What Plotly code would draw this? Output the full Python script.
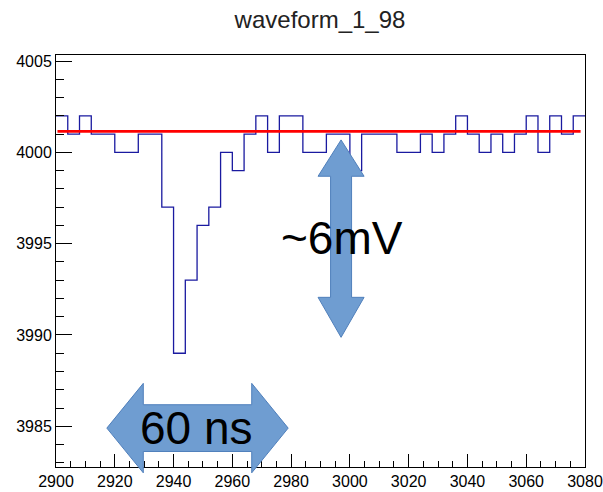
import plotly.graph_objects as go

# ---- data ----
x_start = 2900
bin_width = 4
counts = [4002, 4001, 4002, 4001, 4001, 4000, 4000, 4001, 4001, 3997,
          3989, 3993, 3996, 3997, 4000, 3999, 4001, 4002, 4000, 4002,
          4002, 4000, 4000, 4001, 4001, 3999, 4001, 4001, 4001, 4000,
          4000, 4001, 4000, 4001, 4002, 4001, 4000, 4001, 4000, 4001,
          4002, 4000, 4002, 4001, 4002]
baseline = 4001.15
fit_x = [2900.5, 3078.5]
x_range = [2900, 3080]
y_range = [3982.77, 4005.33]
title = "waveform_1_98"
label_amp = "~6mV"
label_time = "60 ns"

# bin edges
edges = [x_start + i * bin_width for i in range(len(counts) + 1)]
hx = edges
hy = counts + [counts[-1]]

fig = go.Figure()
fig.add_trace(go.Scatter(x=hx, y=hy, mode="lines", line_shape="hv",
                         line=dict(color="#1a1aa0", width=1.3),
                         showlegend=False, hoverinfo="skip"))
fig.add_trace(go.Scatter(x=fit_x, y=[baseline, baseline], mode="lines",
                         line=dict(color="#ff0000", width=2.6),
                         showlegend=False, hoverinfo="skip"))

def px(x):
    return (x - x_range[0]) / (x_range[1] - x_range[0])

def py(y):
    return (y - y_range[0]) / (y_range[1] - y_range[0])

ARROW_FILL = "#6f9dd1"
ARROW_LINE = "#4f7fbb"

def harrow(x0, xh0, xh1, x1, yc, hh, sh):
    pts = [(x0, yc), (xh0, yc + hh), (xh0, yc + sh), (xh1, yc + sh), (xh1, yc + hh),
           (x1, yc), (xh1, yc - hh), (xh1, yc - sh), (xh0, yc - sh), (xh0, yc - hh)]
    return "M " + " L ".join(f"{px(a):.5f},{py(b):.5f}" for a, b in pts) + " Z"

def varrow(y0, yh0, yh1, y1, xc, hw, sw):
    pts = [(xc, y0), (xc + hw, yh0), (xc + sw, yh0), (xc + sw, yh1), (xc + hw, yh1),
           (xc, y1), (xc - hw, yh1), (xc - sw, yh1), (xc - sw, yh0), (xc - hw, yh0)]
    return "M " + " L ".join(f"{px(a):.5f},{py(b):.5f}" for a, b in pts) + " Z"

fig.add_shape(type="path", xref="paper", yref="paper",
              path=harrow(2917.3, 2929.7, 2966.6, 2979.0, 3984.9, 2.45, 1.28),
              fillcolor=ARROW_FILL, line=dict(color=ARROW_LINE, width=1), layer="above")
fig.add_shape(type="path", xref="paper", yref="paper",
              path=varrow(4000.68, 3998.69, 3992.06, 3989.87, 2997.0, 7.83, 3.57),
              fillcolor=ARROW_FILL, line=dict(color=ARROW_LINE, width=1), layer="above")

fig.add_annotation(text=label_amp, xref="paper", yref="paper",
                   x=px(2997.2), y=py(3995.3), xanchor="center", yanchor="middle",
                   showarrow=False, font=dict(size=46, color="black",
                                              family="Liberation Sans, Arial"))
fig.add_annotation(text=label_time, xref="paper", yref="paper",
                   x=px(2947.9), y=py(3984.9), xanchor="center", yanchor="middle",
                   showarrow=False, font=dict(size=46, color="black",
                                              family="Liberation Sans, Arial"))

fig.update_layout(
    width=603, height=492,
    margin=dict(l=56, r=18, t=55, b=25, autoexpand=False),
    paper_bgcolor="white", plot_bgcolor="white",
    font=dict(family="Liberation Sans, Arial", color="black"),
    title=dict(text=title, x=320 / 603, xanchor="center", y=1 - 20 / 492,
               yanchor="middle", font=dict(size=24, color="#222222")),
    xaxis=dict(range=x_range, showgrid=False, zeroline=False, automargin=False,
               showline=True, linecolor="black", linewidth=1, mirror=True,
               ticks="inside", tickcolor="black", ticklen=13, tickwidth=1,
               dtick=20, tick0=2900, tickfont=dict(size=16),
               minor=dict(ticks="inside", dtick=5, ticklen=6, tickcolor="black",
                          showgrid=False)),
    yaxis=dict(range=y_range, showgrid=False, zeroline=False, automargin=False,
               showline=True, linecolor="black", linewidth=1, mirror=True,
               ticks="inside", tickcolor="black", ticklen=16, tickwidth=1,
               dtick=5, tick0=4000, tickfont=dict(size=16),
               minor=dict(ticks="inside", dtick=1, ticklen=8, tickcolor="black",
                          showgrid=False)),
)

fig.write_html("out.html")
